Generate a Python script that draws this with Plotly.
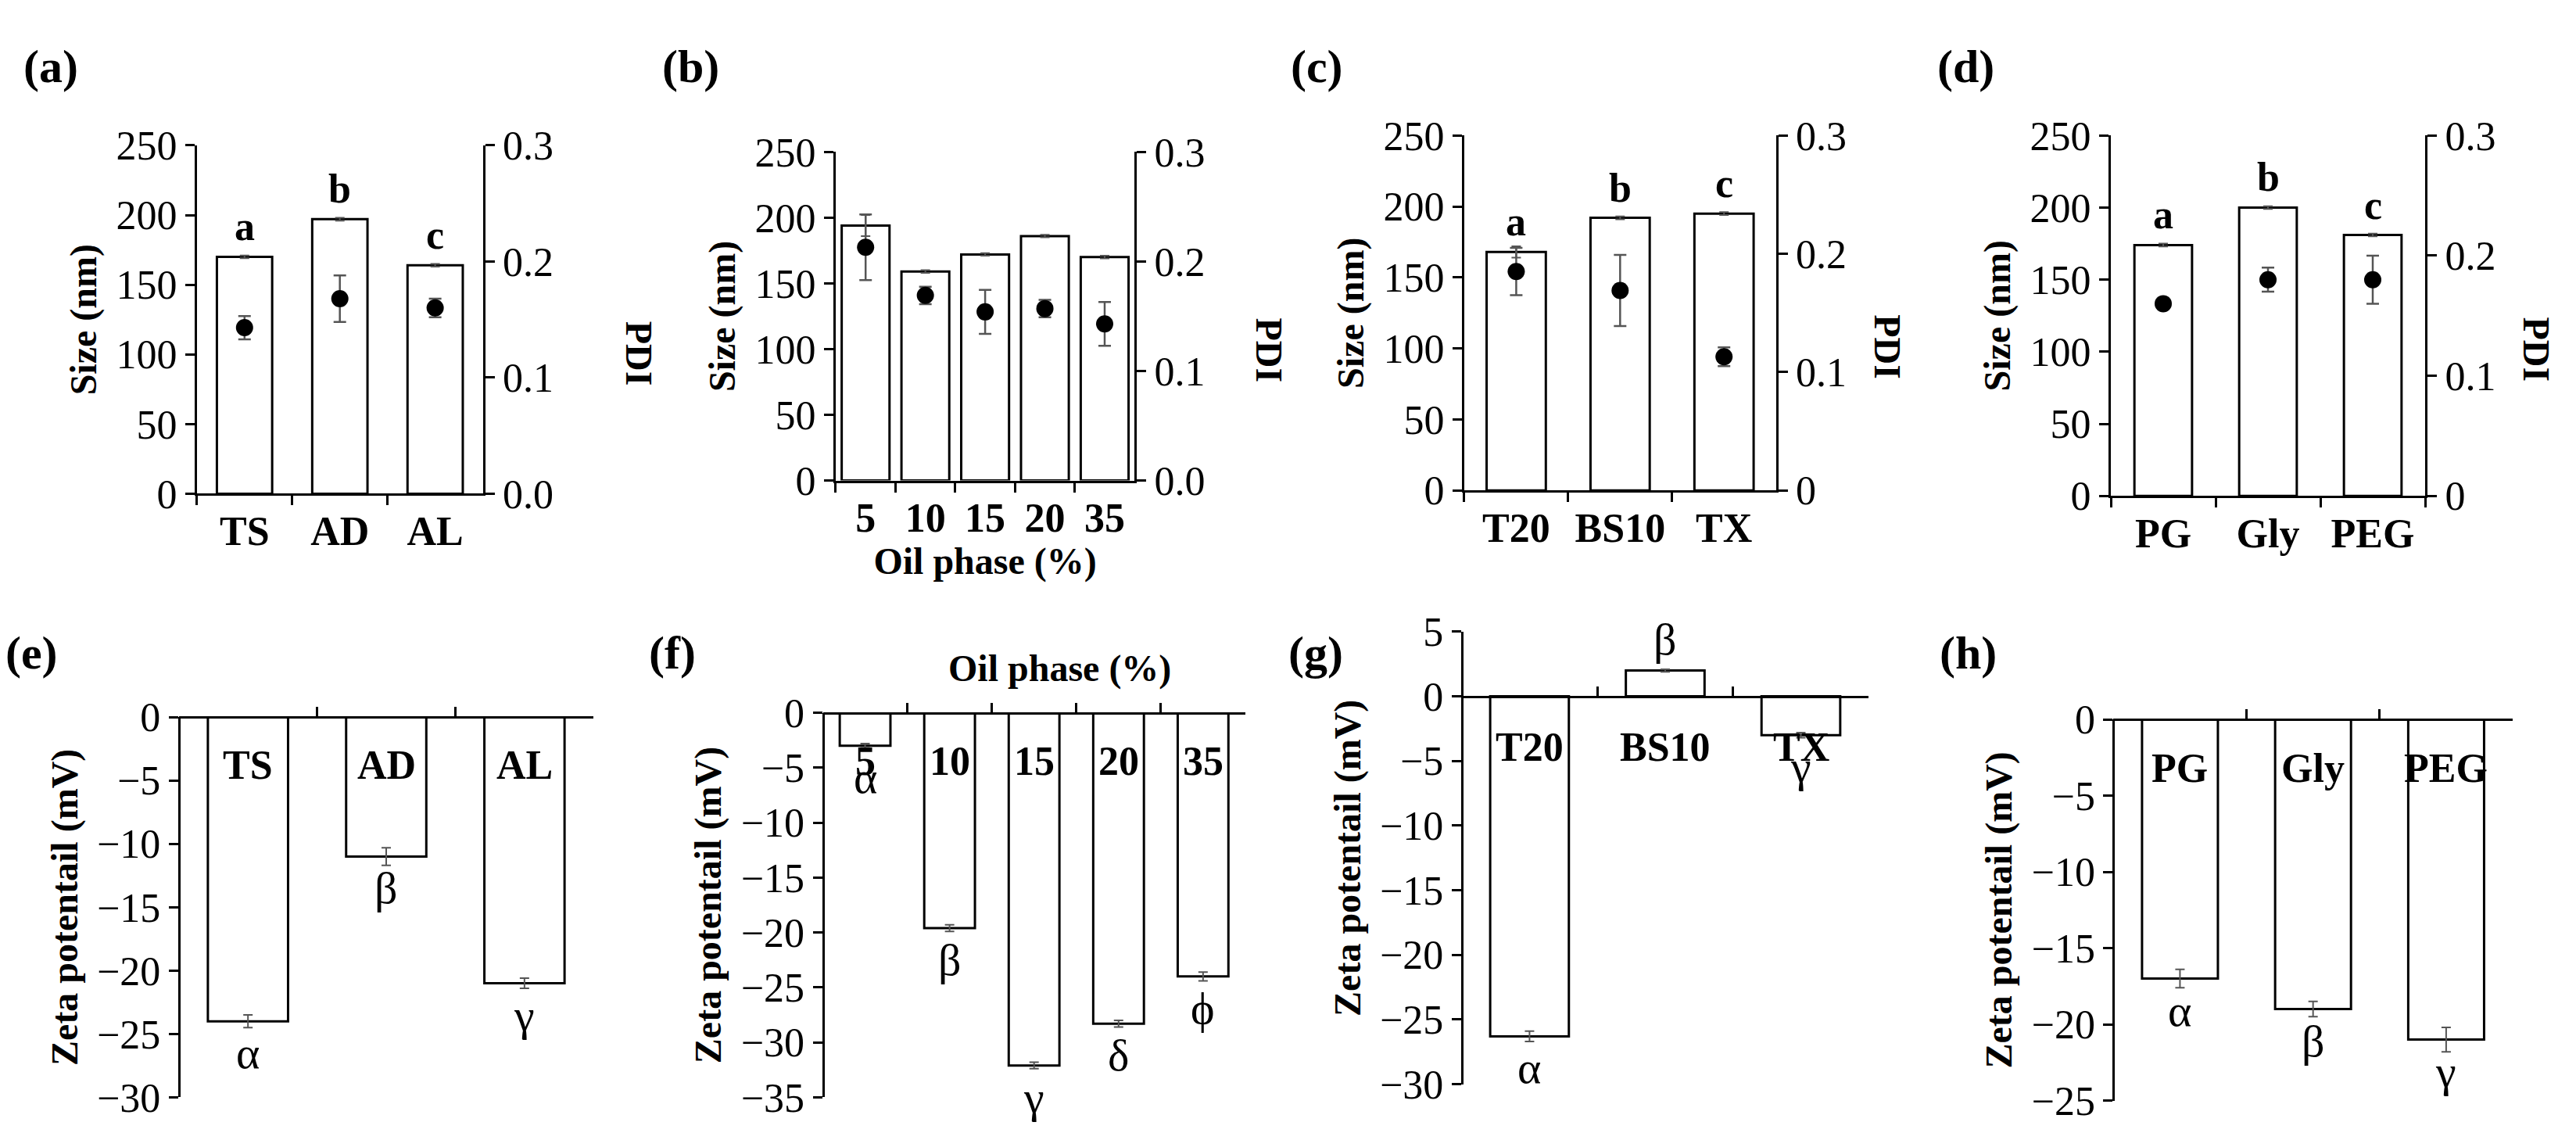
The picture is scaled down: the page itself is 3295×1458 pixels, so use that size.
import plotly.graph_objects as go

# ---- data ----
cat_a = ["TS", "AD", "AL"]
size_a = [170, 197, 164]
size_a_err = [1, 1, 1]
pdi_a = [0.143, 0.168, 0.160]
pdi_a_err = [0.010, 0.020, 0.008]
sig_a = ["a", "b", "c"]

cat_b = ["5", "10", "15", "20", "35"]
size_b = [194, 159, 172, 186, 170]
size_b_err = [8, 1, 1, 1, 1]
pdi_b = [0.213, 0.169, 0.154, 0.157, 0.143]
pdi_b_err = [0.030, 0.008, 0.020, 0.008, 0.020]

cat_c = ["T20", "BS10", "TX"]
size_c = [168, 192, 195]
size_c_err = [4, 1, 1]
pdi_c = [0.185, 0.169, 0.113]
pdi_c_err = [0.020, 0.030, 0.008]
sig_c = ["a", "b", "c"]

cat_d = ["PG", "Gly", "PEG"]
size_d = [174, 200, 181]
size_d_err = [1, 1, 1]
pdi_d = [0.160, 0.180, 0.180]
pdi_d_err = [0.002, 0.010, 0.020]
sig_d = ["a", "b", "c"]

zeta_e = [-24, -11, -21]
zeta_e_err = [0.5, 0.7, 0.4]
greek_e = ["α", "β", "γ"]

zeta_f = [-3, -19.6, -32.1, -28.3, -24]
zeta_f_err = [0.2, 0.3, 0.3, 0.3, 0.4]
greek_f = ["α", "β", "γ", "δ", "ϕ"]

zeta_g = [-26.3, 2, -3]
zeta_g_err = [0.4, 0.1, 0.2]
greek_g = ["α", "β", "γ"]

zeta_h = [-17, -19, -21]
zeta_h_err = [0.6, 0.5, 0.8]
greek_h = ["α", "β", "γ"]

FONT = "Liberation Serif"
TICK = 52
TITLE = 48
fig = go.Figure()
ann = []

top = [
    ("a", cat_a, size_a, size_a_err, pdi_a, pdi_a_err, sig_a, [0.074, 0.185], [0.575, 0.893], 0.58, True),
    ("b", cat_b, size_b, size_b_err, pdi_b, pdi_b_err, None, [0.322, 0.438], [0.587, 0.887], 0.8, True),
    ("c", cat_c, size_c, size_c_err, pdi_c, pdi_c_err, sig_c, [0.566, 0.687], [0.578, 0.902], 0.57, False),
    ("d", cat_d, size_d, size_d_err, pdi_d, pdi_d_err, sig_d, [0.817, 0.939], [0.573, 0.902], 0.55, False),
]
bottom = [
    ("e", cat_a, zeta_e, zeta_e_err, greek_e, [0.067, 0.228], [0.024, 0.371], [-30, 0], -3.8, 0.58),
    ("f", cat_b, zeta_f, zeta_f_err, greek_f, [0.317, 0.481], [0.024, 0.375], [-35, 0], -4.4, 0.6),
    ("g", cat_c, zeta_g, zeta_g_err, greek_g, [0.565, 0.723], [0.036, 0.449], [-30, 5], -3.9, 0.58),
    ("h", cat_d, zeta_h, zeta_h_err, greek_h, [0.818, 0.973], [0.021, 0.369], [-25, 0], -3.2, 0.57),
]

axis_common = dict(showline=True, linecolor="black", linewidth=3, showgrid=False, zeroline=False,
                   ticks="outside", ticklen=12, tickwidth=3, tickcolor="black",
                   tickfont=dict(family=FONT, size=TICK, color="black"))

for i, (lab, cats, size, serr, pdi, perr, sig, xd, yd, bw, decimals) in enumerate(top):
    n = i + 1
    xa, ya, ya2 = f"x{n}", f"y{n}", f"y{n + 8}"
    fig.add_trace(go.Bar(x=cats, y=size, width=bw, xaxis=xa, yaxis=ya,
                         marker=dict(color="white", line=dict(color="black", width=3)),
                         error_y=dict(type="data", array=serr, color="#555", thickness=2, width=6),
                         showlegend=False))
    fig.add_trace(go.Scatter(x=cats, y=pdi, mode="markers", xaxis=xa, yaxis=ya2,
                             marker=dict(color="black", size=22),
                             error_y=dict(type="data", array=perr, color="#555", thickness=2.5, width=8),
                             showlegend=False))
    fig.layout[f"xaxis{n}"] = dict(axis_common, domain=xd, anchor=ya, type="category", tickson="boundaries",
                                   range=[-0.5, len(cats) - 0.5],
                                   tickfont=dict(family=FONT, size=TICK, color="black", weight="bold"))
    fig.layout[f"yaxis{n}"] = dict(axis_common, domain=yd, anchor=xa, range=[0, 250], dtick=50,
                                   title=dict(text="<b>Size (nm)</b>", font=dict(family=FONT, size=TITLE), standoff=10))
    pdi_text = ["0.0", "0.1", "0.2", "0.3"] if decimals else ["0", "0.1", "0.2", "0.3"]
    fig.layout[f"yaxis{n + 8}"] = dict(axis_common, overlaying=ya, side="right", anchor=xa,
                                       range=[0, 0.3], tickmode="array", tickvals=[0, 0.1, 0.2, 0.3],
                                       ticktext=pdi_text)
    ann.append(dict(text="<b>PDI</b>", xref="paper", yref="paper", x=xd[1] + 0.052, y=sum(yd) / 2,
                    textangle=90, showarrow=False, font=dict(family=FONT, size=TITLE)))
    ann.append(dict(text=f"<b>({lab})</b>", xref="paper", yref="paper", x=xd[0] - 0.068, y=0.99,
                    xanchor="left", yanchor="top", showarrow=False, font=dict(family=FONT, size=60)))
    if sig:
        for k, (v, s) in enumerate(zip(size, sig)):
            ann.append(dict(text=f"<b>{s}</b>", x=k, y=v, xref=xa, yref=ya, yanchor="bottom", yshift=8,
                            showarrow=False, font=dict(family=FONT, size=TICK)))
    if lab == "b":
        fig.layout[f"xaxis{n}"].title = dict(text="<b>Oil phase (%)</b>", font=dict(family=FONT, size=TITLE), standoff=8)

for i, (lab, cats, z, zerr, greek, xd, yd, yr, ylab, bw) in enumerate(bottom):
    n = i + 5
    xa, ya = f"x{n}", f"y{n}"
    fig.add_trace(go.Bar(x=cats, y=z, width=bw, xaxis=xa, yaxis=ya,
                         marker=dict(color="white", line=dict(color="black", width=3)),
                         error_y=dict(type="data", array=zerr, color="#555", thickness=2, width=6),
                         showlegend=False))
    pos = yd[0] + (0 - yr[0]) / (yr[1] - yr[0]) * (yd[1] - yd[0])
    fig.layout[f"xaxis{n}"] = dict(axis_common, domain=xd, anchor="free", position=pos, type="category",
                                   range=[-0.5, len(cats) - 0.5],
                                   tickson="boundaries", ticks="inside", showticklabels=False)
    fig.layout[f"yaxis{n}"] = dict(axis_common, domain=yd, anchor="free", position=xd[0], range=yr, dtick=5,
                                   title=dict(text="<b>Zeta potentail (mV)</b>", font=dict(family=FONT, size=TITLE), standoff=8))
    for k, (c, v, g) in enumerate(zip(cats, z, greek)):
        ann.append(dict(text=f"<b>{c}</b>", x=k, y=ylab, xref=xa, yref=ya, showarrow=False,
                        font=dict(family=FONT, size=TICK)))
        ann.append(dict(text=g, x=k, y=v, xref=xa, yref=ya, showarrow=False,
                        yanchor="bottom" if v > 0 else "top", yshift=6 if v > 0 else -6,
                        font=dict(family=FONT, size=58)))
    ann.append(dict(text=f"<b>({lab})</b>", xref="paper", yref="paper", x=xd[0] - 0.068, y=0.455,
                    xanchor="left", yanchor="top", showarrow=False, font=dict(family=FONT, size=60)))
    if lab == "f":
        ann.append(dict(text="<b>Oil phase (%)</b>", xref="paper", yref="paper", x=sum(xd) / 2 + 0.01,
                        y=yd[1] + 0.02, yanchor="bottom", showarrow=False, font=dict(family=FONT, size=TITLE)))

fig.update_layout(width=3295, height=1458, paper_bgcolor="white", plot_bgcolor="white",
                  margin=dict(l=0, r=0, t=0, b=0), annotations=ann,
                  font=dict(family=FONT, color="black"))
fig.write_html("out.html")
